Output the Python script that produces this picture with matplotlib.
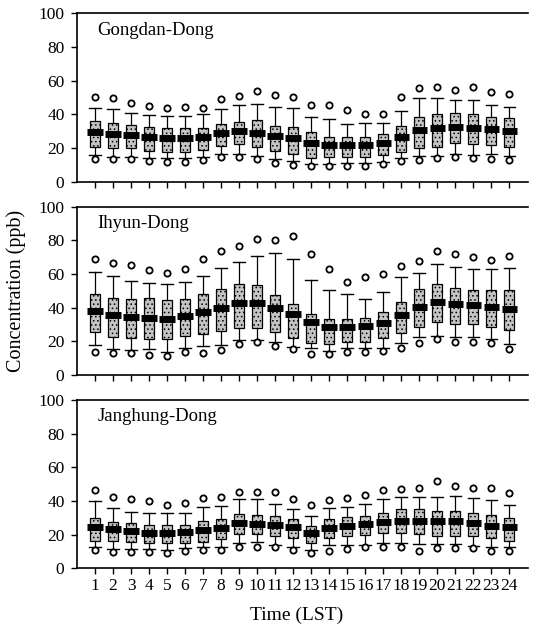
import matplotlib.pyplot as plt

plt.rcParams['font.family'] = ['Liberation Serif', 'DejaVu Serif']
plt.rcParams['hatch.linewidth'] = 0.6

hours = list(range(1, 25))
stations = ["Gongdan-Dong", "Ihyun-Dong", "Janghung-Dong"]

# Gongdan-Dong
gd_out_hi = [50.5, 49.5, 47, 45, 44, 44.6, 44, 48.9, 51, 54, 51.7, 50.5,
             45.5, 45.5, 42.6, 40.2, 40.2, 50.5, 55.6, 56.4, 54.5, 56, 53, 52]
gd_whi = [44, 43, 41, 39.6, 39.2, 39.2, 40, 43.2, 45.5, 46.3, 44.4, 43.6,
          38.4, 37.2, 34.1, 35, 35, 42, 49.5, 49.5, 48.5, 48.5, 45.5, 44.6]
gd_q3 = [36.2, 34.7, 33.7, 32.7, 31.7, 31.7, 32, 34, 35.2, 36.4, 33.3, 32.3,
         29.3, 26.3, 26.3, 26.3, 28.3, 33.1, 38.6, 40, 40.6, 40, 38.6, 37.6]
gd_med = [29.3, 28.3, 27.7, 26.3, 25.7, 25.7, 26.3, 28.7, 30.1, 29.1, 27.3, 25.7,
          22.8, 21.8, 21.8, 21.8, 22.8, 26.7, 30.7, 32.1, 32.7, 32.1, 31.3, 30.1]
gd_q1 = [20.8, 19.8, 19.8, 18.4, 17.8, 17.8, 18.8, 21.2, 22.4, 20.4, 18.2, 16.4,
         13.9, 14.9, 14.9, 14.9, 15.8, 17.8, 19.8, 20.4, 22.8, 22.2, 21.8, 20.4]
gd_wlo = [15.8, 14.9, 14.9, 13.9, 14.3, 14.3, 14.9, 16.2, 16.2, 15.2, 13.3, 12.3,
          10.5, 10.5, 10.9, 10.9, 11.9, 13.9, 15.4, 15.4, 16.4, 15.8, 16.4, 15.4]
gd_out_lo = [13.3, 13.3, 13.3, 12.5, 11.5, 11.9, 12.9, 14.5, 14.5, 13.7, 11.3, 9.7,
             9.5, 9.5, 9.5, 9.5, 10.3, 12.5, 12.9, 13.9, 14.9, 13.9, 13.3, 12.9]

# Ihyun-Dong
ih_out_hi = [68.7, 66.3, 65.3, 62.4, 60.8, 63, 68.9, 73.9, 76.8, 81, 80, 82.4,
             71.9, 62.8, 55.4, 58.4, 59.8, 64.8, 67.7, 73.9, 71.9, 70.3, 68.3, 70.9]
ih_whi = [61, 59, 56, 54.9, 54.3, 55.4, 58.8, 63.4, 67.3, 70.5, 72.5, 68.9,
          56.4, 50.3, 48.3, 45, 49.3, 58.4, 60.8, 65.9, 64, 63, 63, 63.8]
ih_q3 = [48.1, 45.9, 45, 45.5, 44.4, 45.1, 48.3, 51.1, 54.3, 53.3, 47.5, 42.2,
         36.4, 33.1, 33.1, 34.1, 37.2, 43.2, 50.9, 53.9, 51.9, 50.5, 50.5, 50.5]
ih_med = [38, 35.6, 34.7, 34.1, 33.3, 35, 37.2, 39.6, 42.6, 42.6, 39.6, 36.2,
          31.3, 28.5, 28.5, 29.1, 31.1, 35.6, 40.4, 43.2, 42, 41.6, 40.6, 39.2]
ih_q1 = [25.7, 22.8, 22.2, 21.4, 21.2, 23.2, 24.2, 26.1, 28.1, 28.1, 25.3, 22.2,
         19.2, 18.4, 19.8, 19.8, 21.8, 24.8, 28.3, 31.7, 30.3, 30.3, 28.7, 26.5]
ih_wlo = [17.8, 15.4, 14.7, 15.4, 13.5, 16.2, 17.4, 17.8, 20.8, 20.8, 19.4, 16.8,
          15.8, 14.3, 15.8, 15.8, 16.2, 18.8, 22.8, 23.4, 22.8, 22.8, 21.4, 18.4]
ih_out_lo = [13.9, 12.9, 12.9, 11.9, 11.3, 13.5, 13.3, 14.7, 18.4, 19.4, 17.4, 15.2,
             12.3, 12.3, 13.5, 13.5, 14.5, 16.2, 19.2, 21.2, 19.4, 19.8, 18.8, 15.4]

# Janghung-Dong
jh_out_hi = [46.5, 42.6, 41, 40.2, 37.6, 38.6, 41.6, 42.6, 45.5, 45.5, 45.5, 41,
             37.6, 40.6, 41.6, 43.6, 46.5, 47.3, 47.9, 52.1, 48.9, 47.9, 47.9, 45]
jh_whi = [40, 36, 33.7, 33.1, 33.1, 33.1, 36.2, 37.2, 41.2, 41, 38, 35.2,
          31.3, 35.6, 36.2, 38.2, 41.2, 42.6, 42.6, 42.6, 43.2, 41.6, 40.6, 37.6]
jh_q3 = [29.7, 27.7, 26.7, 25.7, 25.7, 25.7, 28.3, 29.1, 32.3, 31.7, 31.1, 29.1,
         25.1, 29.1, 30.3, 31.1, 33.1, 35, 35, 34.1, 34.1, 32.7, 31.7, 30.1]
jh_med = [24.4, 23.2, 22.2, 20.8, 20.8, 21.8, 22.8, 23.8, 26.7, 26.3, 25.7, 24.4,
          20.8, 23.8, 25.1, 26.1, 27.5, 28.1, 28.1, 28.1, 28.1, 26.7, 25.3, 24.4]
jh_q1 = [16.4, 16.4, 15.8, 14.9, 15.2, 14.9, 15.8, 17.2, 20.4, 20.4, 19.2, 17.8,
         14.9, 17.8, 19.2, 19.8, 20.8, 20.8, 20.2, 19.4, 19.4, 19.2, 17.8, 16.4]
jh_wlo = [12.9, 11.5, 11.5, 11.5, 10.9, 11.9, 12.9, 12.9, 14.9, 15.4, 14.1, 12.9,
          10.9, 13.9, 13.9, 13.9, 15.2, 15.2, 14.5, 14.5, 14.5, 13.5, 12.5, 12.5]
jh_out_lo = [10.9, 9.5, 9.9, 9.9, 8.9, 10.5, 10.9, 10.9, 12.5, 12.5, 12.5, 10.9,
             8.9, 10.3, 11.3, 12.5, 12.5, 12.5, 10.5, 11.9, 11.9, 11.9, 10.5, 10.5]

data = [
    (gd_out_hi, gd_whi, gd_q3, gd_med, gd_q1, gd_wlo, gd_out_lo),
    (ih_out_hi, ih_whi, ih_q3, ih_med, ih_q1, ih_wlo, ih_out_lo),
    (jh_out_hi, jh_whi, jh_q3, jh_med, jh_q1, jh_wlo, jh_out_lo),
]

fig = plt.figure(figsize=(5.38, 6.33), dpi=100)
W, H = 538, 633
# top/bottom pixel rows of each panel
rows = [(13.3, 181.7), (206.7, 375), (400, 568.3)]
left_px, right_px = 77, 528

for i, (name, d) in enumerate(zip(stations, data)):
    top, bot = rows[i]
    ax = fig.add_axes([left_px / W, 1 - bot / H, (right_px - left_px) / W, (bot - top) / H])
    out_hi, whi, q3, med, q1, wlo, out_lo = d
    stats = []
    for k in range(len(hours)):
        stats.append(dict(med=med[k], q1=q1[k], q3=q3[k], whislo=wlo[k], whishi=whi[k],
                          fliers=[out_lo[k], out_hi[k]]))
    ax.bxp(stats, positions=hours, widths=0.55, patch_artist=True,
           boxprops=dict(facecolor='#c4c4c4', edgecolor='black', linewidth=0.9, hatch='....'),
           whiskerprops=dict(color='black', linewidth=0.9),
           capprops=dict(color='black', linewidth=1.0),
           capwidths=0.62,
           medianprops=dict(linewidth=0),
           flierprops=dict(marker='o', markersize=4.5, markerfacecolor='white',
                           markeredgecolor='black', markeredgewidth=1.3))
    ax.hlines(med, [h - 0.42 for h in hours], [h + 0.42 for h in hours],
              colors='black', linewidth=5, zorder=5)

    ax.set_xlim(0, 25.05)
    ax.set_ylim(0, 100)
    ax.set_yticks([0, 20, 40, 60, 80, 100])
    ax.set_xticks(hours)
    ax.spines['right'].set_visible(False)
    for s in ['left', 'top', 'bottom']:
        ax.spines[s].set_linewidth(1.2)
    ax.tick_params(direction='out', length=4, width=1, labelsize=12.5)
    ax.tick_params(axis='y', pad=5)
    ax.tick_params(axis='x', pad=3)
    if i < 2:
        ax.set_xticklabels([])
    else:
        ax.set_xticklabels([str(h) for h in hours])
    ax.text(0.045, 0.9, name, transform=ax.transAxes, fontsize=13.5, va='center', ha='left')

fig.text(16 / W, 1 - 291 / H, 'Concentration (ppb)', rotation=90, fontsize=14.5,
         ha='center', va='center')
fig.text(297 / W, 1 - 615 / H, 'Time (LST)', fontsize=14, ha='center', va='center')

fig.savefig('out.png', dpi=100)
